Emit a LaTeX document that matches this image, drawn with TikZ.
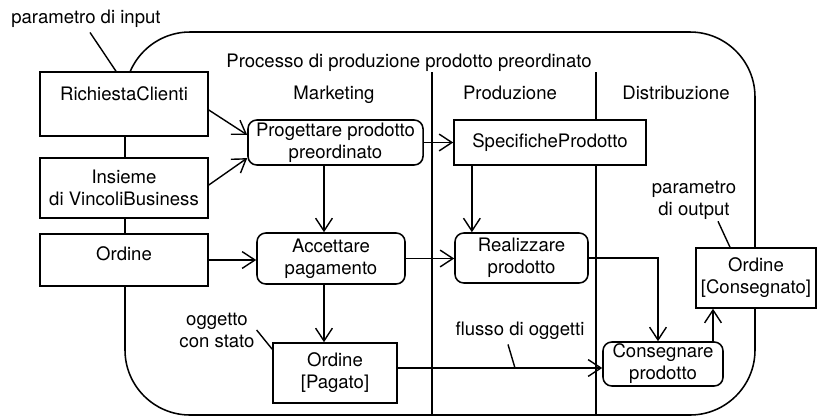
\documentclass[tikz,border=0pt]{standalone}
\usepackage{fontspec}
\setmainfont{TeX Gyre Heros}
\usetikzlibrary{arrows.meta}

\begin{document}
\begin{tikzpicture}[x=0.025cm, y=-0.025cm, line width=1pt,
    every node/.style={font=\fontsize{13.2}{15.6}\selectfont},
    obj/.style={draw, fill=white, line width=1.1pt, inner xsep=2pt, inner ysep=0pt, align=center},
    act/.style={obj, rounded corners=2.2mm},
    arr/.style={-{Straight Barb[length=3.2mm,width=4.2mm]}},
    note/.style={align=center, inner sep=1pt}]
        \useasboundingbox (0,0) rectangle (817,417);
        \draw[line width=1.1pt, rounded corners=1.625cm] (125,32) rectangle (755,415);
        \draw[line width=0.8pt] (432,72) -- (432,415);
        \draw[line width=0.8pt] (596,72) -- (596,415);
        \node[anchor=base] (titolo) at (409,67) {Processo di produzione prodotto preordinato};
        \node[anchor=base] (mkt) at (334,99) {Marketing};
        \node[anchor=base] (prd) at (510,99) {Produzione};
        \node[anchor=base] (dst) at (676,99) {Distribuzione};
        \node[obj, minimum width=4.2cm, text height=7mm, text depth=9mm] (rc) at (124,104) {RichiestaClienti};
        \node[obj, minimum width=4.2cm, minimum height=1.5cm] (vb) at (124,188) {Insieme\\di VincoliBusiness};
        \node[obj, minimum width=4.2cm, text height=6.5mm, text depth=6.5mm] (ord) at (124,260) {Ordine};
        \node[act, minimum width=4.375cm, minimum height=1.125cm] (prog) at (335.5,142.5) {Progettare prodotto\\preordinato};
        \node[act, minimum width=3.7cm, minimum height=1.275cm] (acc) at (331,258.5) {Accettare\\pagamento};
        \node[obj, minimum width=3.1cm, minimum height=1.5cm] (pag) at (335,373) {Ordine\\{[Pagato]}};
        \node[obj, minimum width=4.8cm, minimum height=1.125cm] (spec) at (550,142.5) {SpecificheProdotto};
        \node[act, minimum width=3.325cm, minimum height=1.25cm] (real) at (521.5,258) {Realizzare\\prodotto};
        \node[act, minimum width=3cm, minimum height=1.1cm] (cons) at (663,364) {Consegnare\\prodotto};
        \node[obj, minimum width=3cm, minimum height=1.5cm] (odc) at (756,278) {Ordine\\{[Consegnato]}};
        \node[anchor=base] (inpar) at (86,23) {parametro di input};
        \node[note] (stato) at (217,330) {oggetto\\con stato};
        \node[anchor=base] (flusso) at (520,335) {flusso di oggetti};
        \node[note] (outpar) at (694,200) {parametro\\di output};
        \coordinate (fpt) at (515,368);
        \draw ([xshift=1mm]inpar.south) -- ([xshift=-2mm]rc.north);
        \draw (stato.east) -- ([yshift=-1.75mm]pag.north west);
        \draw ([xshift=-3mm]flusso.south) -- (fpt);
        \draw ([xshift=6mm]outpar.south) -- ([xshift=-6.5mm]odc.north);
        \draw[arr] ([yshift=-1.5mm]rc.east) -- ([yshift=1.9mm]prog.west);
        \draw[arr] ([yshift=0.75mm]vb.east) -- ([yshift=-3.9mm]prog.west);
        \draw[arr] ([xshift=-1.75mm]acc.north |- prog.south) -- ([xshift=-1.75mm]acc.north);
        \draw[arr] (ord.east) -- (ord.east -| acc.west);
        \draw[arr] ([xshift=-1.75mm]acc.south) -- ([xshift=-1.75mm]acc.south |- pag.north);
        \draw[arr] (prog.east) -- (spec.west);
        \draw[arr] ([xshift=-12.4mm]real.north |- spec.south) -- ([xshift=-12.4mm]real.north);
        \draw[arr] (acc.east) -- (acc.east -| real.west);
        \draw[arr] (real.east) -| ([xshift=-1.25mm]cons.north);
        \draw[arr] ([yshift=1.25mm]pag.east) -- ([yshift=1.25mm]pag.east -| cons.west);
        \draw[arr] ([xshift=12.5mm]cons.north) -- ([xshift=12.5mm]cons.north |- odc.south);
      \end{tikzpicture}
\end{document}
